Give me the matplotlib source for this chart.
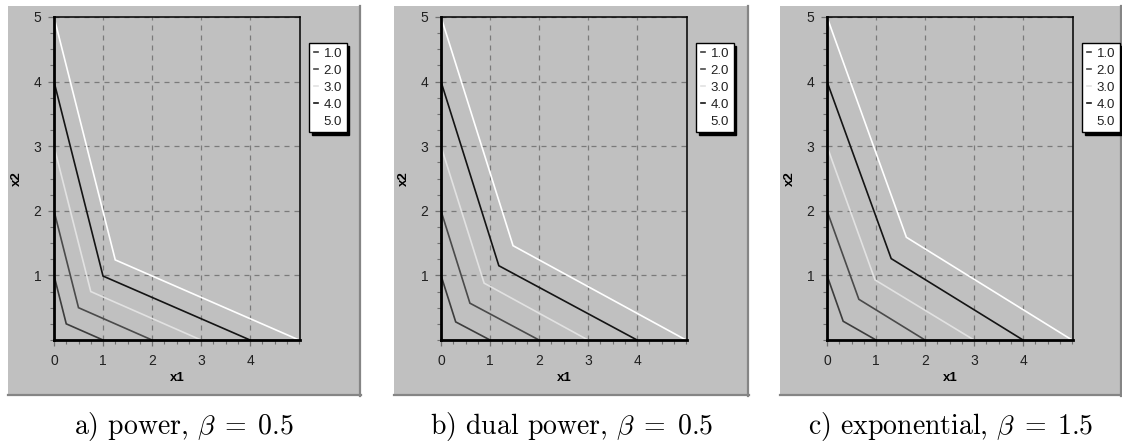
import numpy as np
import matplotlib
matplotlib.use("Agg")
import matplotlib.pyplot as plt
from matplotlib.lines import Line2D
from matplotlib.patches import Rectangle

plt.rcParams["font.family"] = ["Liberation Sans", "DejaVu Sans"]
plt.rcParams["mathtext.fontset"] = "cm"

# ---- data ----
levels = [1.0, 2.0, 3.0, 4.0, 5.0]
level_labels = ["1.0", "2.0", "3.0", "4.0", "5.0"]
level_colors = ["#3c3c3c", "#4a4a4a", "#e2e2e2", "#141414", "#ffffff"]

# kink point of each piecewise-linear contour (x1, x2), per panel
kink_x_power = [0.25, 0.50, 0.75, 1.00, 1.25]
kink_y_power = [0.25, 0.50, 0.75, 0.99, 1.24]
kink_x_dual = [0.30, 0.59, 0.88, 1.18, 1.47]
kink_y_dual = [0.28, 0.57, 0.88, 1.15, 1.46]
kink_x_exp = [0.33, 0.65, 0.98, 1.31, 1.62]
kink_y_exp = [0.29, 0.63, 0.93, 1.26, 1.59]

captions = [r"a) power, $\beta\;=\;0.5$",
            r"b) dual power, $\beta\;=\;0.5$",
            r"c) exponential, $\beta\;=\;1.5$"]
kinks = [(kink_x_power, kink_y_power),
         (kink_x_dual, kink_y_dual),
         (kink_x_exp, kink_y_exp)]

W, H = 1122, 442
# pixel boxes: gray panel (x0, x1), axes (left, right), legend left
panel_px = [(8, 361), (394, 749), (780, 1122)]
axes_px = [(54, 300), (441, 687), (827, 1073)]
legend_px = [309, 696, 1082]
AX_TOP, AX_BOT = 17, 340
GRAY_TOP, GRAY_BOT = 6, 396
BG = "#c0c0c0"

fig = plt.figure(figsize=(W / 100, H / 100), dpi=100)
fig.patch.set_facecolor("white")

for i in range(3):
    x0, x1 = panel_px[i]
    # gray "window" panel with darker right/bottom edge
    fig.add_artist(Rectangle((x0 / W, 1 - GRAY_BOT / H), (x1 - x0) / W,
                             (GRAY_BOT - GRAY_TOP) / H,
                             transform=fig.transFigure, facecolor=BG,
                             edgecolor="none", zorder=-5))
    fig.add_artist(Line2D([x1 / W - 0.0008, x1 / W - 0.0008],
                          [1 - GRAY_BOT / H, 1 - GRAY_TOP / H],
                          transform=fig.transFigure, color="#858585", lw=1.6,
                          zorder=-4))
    fig.add_artist(Line2D([x0 / W, x1 / W], [1 - GRAY_BOT / H + 0.002] * 2,
                          transform=fig.transFigure, color="#858585", lw=1.6,
                          zorder=-4))

    l, r = axes_px[i]
    ax = fig.add_axes([l / W, 1 - AX_BOT / H, (r - l) / W, (AX_BOT - AX_TOP) / H])
    ax.set_facecolor(BG)

    kx, ky = kinks[i]
    for c, col, px, py in zip(levels, level_colors, kx, ky):
        ax.plot([0, px, c], [c, py, 0], color=col, lw=1.2,
                solid_joinstyle="miter", zorder=3)

    ax.set_xlim(0, 5.02)
    ax.set_ylim(0, 5.0)
    ax.set_xticks([0, 1, 2, 3, 4])
    ax.set_yticks([1, 2, 3, 4, 5])
    ax.set_xticks(np.arange(0, 5.01, 0.25), minor=True)
    ax.set_yticks(np.arange(0, 5.01, 0.25), minor=True)
    ax.tick_params(which="both", direction="out", color="#707070", labelsize=10,
                   labelcolor="#202020")
    ax.tick_params(which="major", length=4, width=0.9)
    ax.tick_params(which="minor", length=3, width=0.8)
    ax.tick_params(axis="x", which="major", pad=6)
    ax.tick_params(axis="y", which="major", pad=5)

    ax.grid(True, which="major", color="#7a7a7a", lw=0.9,
            linestyle=(0, (4, 4)), zorder=1)
    ax.set_axisbelow(True)

    for side in ("left", "bottom"):
        ax.spines[side].set_linewidth(2.0)
    for side in ("top", "right"):
        ax.spines[side].set_linewidth(1.1)
    for sp in ax.spines.values():
        sp.set_color("black")
        sp.set_zorder(4)

    ax.set_xlabel("x1", fontsize=9.5, fontweight="bold", labelpad=3)
    ax.set_ylabel("x2", fontsize=9.5, fontweight="bold", labelpad=8)

    handles = [Line2D([], [], color=col, lw=1.2) for col in level_colors]
    leg = ax.legend(handles, level_labels, loc="upper left",
                    bbox_to_anchor=(legend_px[i] / W, 1 - 43 / H),
                    bbox_transform=fig.transFigure, borderaxespad=0,
                    fontsize=9.5, handlelength=0.3, handletextpad=0.45,
                    labelspacing=0.36, borderpad=0.35, fancybox=False,
                    framealpha=1, edgecolor="black",
                    shadow={"color": "black", "alpha": 1})
    leg.get_frame().set_linewidth(1.0)
    for t in leg.get_texts():
        t.set_color("#202020")

    fig.text((x0 + x1) / 2 / W, 1 - 434 / H, captions[i], fontsize=20,
             family="cmr10", ha="center", va="baseline", color="black")

fig.savefig("out.png", dpi=100, facecolor="white")
